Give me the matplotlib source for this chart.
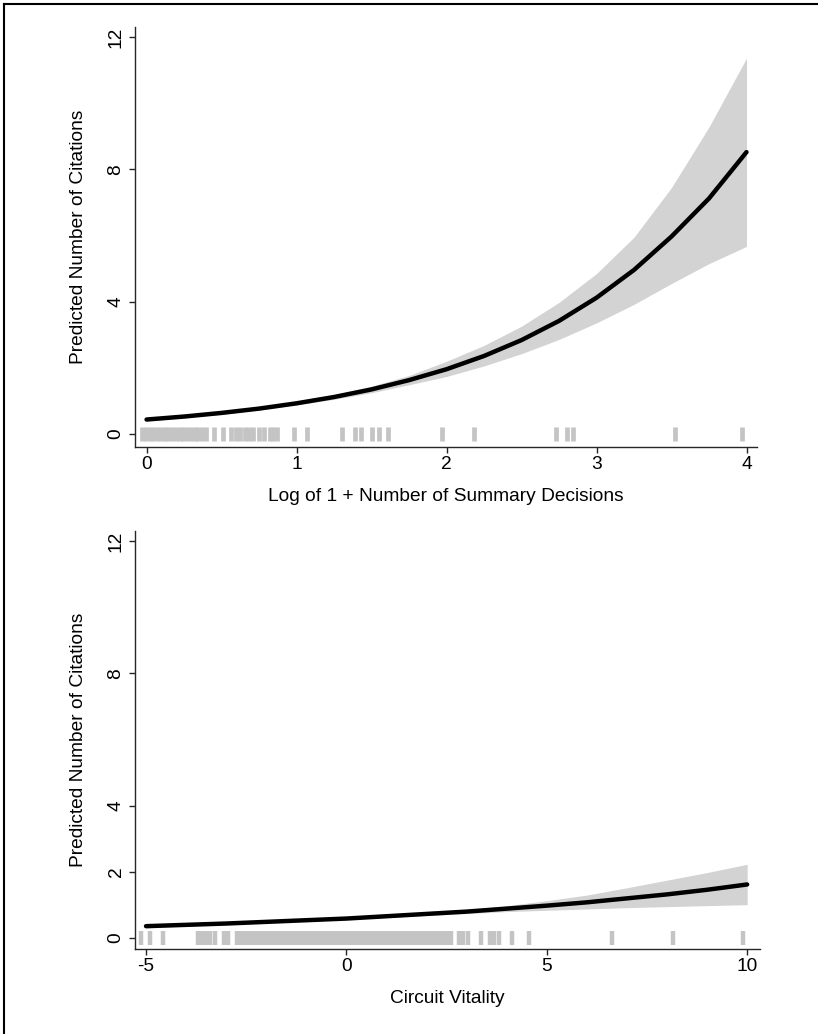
import matplotlib
matplotlib.use("Agg")
import matplotlib.pyplot as plt
from matplotlib.lines import Line2D

plt.rcParams['font.family'] = ['Liberation Sans', 'DejaVu Sans']
plt.rcParams['axes.unicode_minus'] = False

# ---------------- data: top panel ----------------
sd_x = [0.0, 0.25, 0.5, 0.75, 1.0, 1.25, 1.5, 1.75, 2.0, 2.25, 2.5, 2.75, 3.0, 3.25, 3.5, 3.75, 4.0]
sd_fit = [0.44, 0.53, 0.64, 0.77, 0.93, 1.12, 1.35, 1.63, 1.96, 2.36, 2.84, 3.42, 4.12, 4.96, 5.97, 7.12, 8.52]
sd_lo = [0.40, 0.49, 0.60, 0.73, 0.88, 1.05, 1.25, 1.49, 1.74, 2.06, 2.43, 2.86, 3.36, 3.92, 4.55, 5.15, 5.67]
sd_hi = [0.48, 0.57, 0.68, 0.81, 0.98, 1.19, 1.45, 1.77, 2.20, 2.68, 3.26, 3.98, 4.85, 5.95, 7.45, 9.28, 11.36]
sd_rug = [-0.03, -0.005, 0.02, 0.045, 0.07, 0.095, 0.12, 0.145, 0.17, 0.195, 0.22, 0.245,
          0.27, 0.295, 0.32, 0.345, 0.37, 0.395, 0.45, 0.51, 0.565, 0.595, 0.625, 0.655,
          0.68, 0.71, 0.75, 0.78, 0.82, 0.845, 0.87, 0.98, 1.07, 1.30, 1.39, 1.43, 1.50,
          1.55, 1.61, 1.97, 2.18, 2.73, 2.80, 2.84, 3.52, 3.97]
sd_xticks = [0, 1, 2, 3, 4]

# ---------------- data: bottom panel ----------------
cv_x = [-5, -4, -3, -2, -1, 0, 1, 2, 3, 4, 5, 6, 7, 8, 9, 10]
cv_fit = [0.36, 0.40, 0.44, 0.49, 0.54, 0.59, 0.66, 0.73, 0.80, 0.89, 0.98, 1.08, 1.20, 1.32, 1.46, 1.62]
cv_lo = [0.31, 0.36, 0.405, 0.46, 0.51, 0.56, 0.625, 0.685, 0.74, 0.80, 0.84, 0.88, 0.92, 0.95, 0.98, 1.01]
cv_hi = [0.41, 0.44, 0.475, 0.52, 0.57, 0.62, 0.695, 0.775, 0.86, 0.98, 1.13, 1.30, 1.52, 1.75, 1.98, 2.23]
cv_rug = [-5.12, -4.90, -4.57, -3.70, -3.60, -3.50, -3.40, -3.28, -3.05, -2.95,
          -2.73, -2.63, -2.53, -2.43, -2.33, -2.23, -2.13, -2.03, -1.93, -1.83, -1.73,
          -1.63, -1.53, -1.43, -1.33, -1.23, -1.13, -1.03, -0.93, -0.83, -0.73, -0.63,
          -0.53, -0.43, -0.33, -0.23, -0.13, -0.03, 0.07, 0.17, 0.27, 0.37, 0.47, 0.57,
          0.67, 0.77, 0.87, 0.97, 1.07, 1.17, 1.27, 1.37, 1.47, 1.57, 1.67, 1.77, 1.87,
          1.97, 2.07, 2.17, 2.27, 2.37, 2.47, 2.57, 2.61, 2.81, 2.91, 3.03, 3.36, 3.58,
          3.68, 3.80, 4.12, 4.56, 6.62, 8.15, 9.89]
cv_xticks = [-5, 0, 5, 10]

yticks = [0, 4, 8, 12]
cv_yticks = [0, 2, 4, 8, 12]
ylabel = "Predicted Number of Citations"

W, H = 818, 1034
fig = plt.figure(figsize=(W / 100, H / 100), dpi=100)

band_c = '#d3d3d3'
rug_c = '#c4c4c4'
axis_c = '#262626'
fs = 13.8


def style(ax, xticks, yt, xlabel):
    for s in ['top', 'right']:
        ax.spines[s].set_visible(False)
    for s in ['left', 'bottom']:
        ax.spines[s].set_color(axis_c)
        ax.spines[s].set_linewidth(1.0)
    ax.set_xticks(xticks)
    ax.set_yticks(yt)
    ax.tick_params(axis='both', direction='out', length=4.5, width=1.0,
                   color=axis_c, labelsize=fs, labelcolor='black')
    ax.tick_params(axis='x', pad=2)
    ax.tick_params(axis='y', pad=3)
    for lab in ax.get_yticklabels():
        lab.set_rotation(90)
        lab.set_va('center')
    ax.set_ylabel(ylabel, fontsize=fs)
    ax.yaxis.set_label_coords(-0.077, 0.5)
    ax.set_xlabel(xlabel, fontsize=fs)
    ax.xaxis.set_label_coords(0.5, -0.098)


# top axes
ax1 = fig.add_axes([135 / W, 1 - 447 / H, (757 - 135) / W, (447 - 27) / H])
ax1.fill_between(sd_x, sd_lo, sd_hi, color=band_c, linewidth=0, zorder=1)
ax1.vlines(sd_rug, -0.21, 0.22, colors=rug_c, linewidth=3.4, capstyle='butt', zorder=2)
ax1.plot(sd_x, sd_fit, color='black', linewidth=3.2, solid_capstyle='round', zorder=3)
ax1.set_xlim(-0.077, 4.07)
ax1.set_ylim(-0.39, 12.3)
style(ax1, sd_xticks, yticks, "Log of 1 + Number of Summary Decisions")

# bottom axes
ax2 = fig.add_axes([135 / W, 1 - 949 / H, (760 - 135) / W, (949 - 531) / H])
ax2.fill_between(cv_x, cv_lo, cv_hi, color=band_c, linewidth=0, zorder=1)
ax2.vlines(cv_rug, -0.21, 0.22, colors=rug_c, linewidth=3.2, capstyle='butt', zorder=2)
ax2.plot(cv_x, cv_fit, color='black', linewidth=3.2, solid_capstyle='round', zorder=3)
ax2.set_xlim(-5.275, 10.32)
ax2.set_ylim(-0.33, 12.3)
style(ax2, cv_xticks, cv_yticks, "Circuit Vitality")

# frame lines (left and top)
fig.add_artist(Line2D([4 / W, 4 / W], [0, 1 - 4 / H], color='black', linewidth=1.5,
                      transform=fig.transFigure))
fig.add_artist(Line2D([4 / W, 1], [1 - 4 / H, 1 - 4 / H], color='black', linewidth=1.5,
                      transform=fig.transFigure))

fig.savefig('out.png', dpi=100, facecolor='white')
